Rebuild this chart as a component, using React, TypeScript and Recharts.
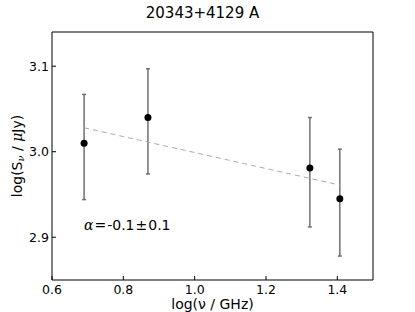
import {
  ScatterChart, Scatter, XAxis, YAxis, ErrorBar, Label,
} from 'recharts'

// log(nu/GHz), log(S/uJy) and the lower/upper error of each point
const logNu = [0.69, 0.869, 1.323, 1.407]
const logS = [3.01, 3.04, 2.981, 2.945]
const errLow = [0.066, 0.066, 0.069, 0.067]
const errHigh = [0.057, 0.057, 0.059, 0.058]

// ends of the fitted power law
const fitX = [0.69, 1.407]
const fitY = [3.028, 2.961]

const xTicks = [0.6, 0.8, 1.0, 1.2, 1.4]
const yTicks = [2.9, 3.0, 3.1]

const points = logNu.map((x, i) => ({ x, y: logS[i], err: [errLow[i], errHigh[i]] }))
const fit = fitX.map((x, i) => ({ x, y: fitY[i] }))

const FONT = '"DejaVu Sans", sans-serif'
const tickStyle = { fill: '#000', fontSize: 12.5, fontFamily: FONT }

const Dot = (props: any) => <circle cx={props.cx} cy={props.cy} r={3.5} fill="#000" />

const YLabel = (props: any) => {
  const vb = props.viewBox
  const cy = vb.y + vb.height / 2
  return (
    <text
      x={17}
      y={cy}
      transform={`rotate(-90 17 ${cy})`}
      textAnchor="middle"
      dominantBaseline="central"
      fontSize={14}
      fontFamily={FONT}
      fill="#000"
    >
      log(S<tspan fontSize={10} fontStyle="italic" fontFamily="DejaVu Serif" dy={3}>ν</tspan>
      <tspan dy={-3}> / </tspan>
      <tspan fontStyle="italic" fontFamily="DejaVu Serif">μ</tspan>Jy)
    </text>
  )
}

export default function App() {
  return (
    <div style={{ position: 'absolute', left: 0, top: 0, width: 415, height: 312, background: '#fff' }}>
      <div
        style={{
          position: 'absolute', left: 0, width: 415, top: 4, textAlign: 'center',
          fontFamily: FONT, fontSize: 15, color: '#000', paddingRight: 10, boxSizing: 'border-box',
        }}
      >
        20343+4129 A
      </div>
      <ScatterChart width={415} height={312} margin={{ top: 31, right: 41, bottom: 0, left: 0 }}>
        <XAxis
          type="number"
          dataKey="x"
          domain={[0.6, 1.5]}
          ticks={xTicks}
          allowDataOverflow
          height={32}
          tick={tickStyle}
          tickFormatter={(v: number) => v.toFixed(1)}
          tickSize={-4}
          tickMargin={9}
          axisLine={{ stroke: '#000' }}
          tickLine={{ stroke: '#000' }}
        >
          <Label
            value="log(ν / GHz)"
            position="insideBottom"
            offset={3}
            style={{ fontSize: 14, fontFamily: FONT, fill: '#000' }}
          />
        </XAxis>
        <XAxis
          xAxisId="top"
          orientation="top"
          type="number"
          dataKey="x"
          domain={[0.6, 1.5]}
          ticks={xTicks}
          allowDataOverflow
          height={1}
          tick={false}
          tickSize={-4}
          axisLine={{ stroke: '#000' }}
          tickLine={{ stroke: '#000' }}
        />
        <YAxis
          type="number"
          dataKey="y"
          domain={[2.85, 3.14]}
          ticks={yTicks}
          allowDataOverflow
          width={52}
          tick={tickStyle}
          tickFormatter={(v: number) => v.toFixed(1)}
          tickSize={-4}
          tickMargin={7}
          axisLine={{ stroke: '#000' }}
          tickLine={{ stroke: '#000' }}
        >
          <Label content={<YLabel />} />
        </YAxis>
        <YAxis
          yAxisId="right"
          orientation="right"
          type="number"
          dataKey="y"
          domain={[2.85, 3.14]}
          ticks={yTicks}
          allowDataOverflow
          width={1}
          tick={false}
          tickSize={-4}
          axisLine={{ stroke: '#000' }}
          tickLine={{ stroke: '#000' }}
        />
        <Scatter
          data={fit}
          xAxisId="top"
          yAxisId="right"
          line={{ stroke: '#aaa', strokeWidth: 1, strokeDasharray: '5 4' }}
          shape={() => <g />}
          isAnimationActive={false}
        />
        <Scatter data={points} shape={<Dot />} isAnimationActive={false}>
          <ErrorBar dataKey="err" direction="y" width={2} stroke="#707070" strokeWidth={1.5} isAnimationActive={false} />
        </Scatter>
      </ScatterChart>
      <div
        style={{
          position: 'absolute', left: 84, top: 217, fontSize: 14, fontFamily: FONT,
          color: '#000', whiteSpace: 'nowrap',
        }}
      >
        <span style={{ fontFamily: '"DejaVu Serif", serif', fontStyle: 'italic' }}>α</span>
        <span style={{ margin: '0 1px' }}>=</span>-0.1<span style={{ margin: '0 1px' }}>±</span>0.1
      </div>
    </div>
  )
}
